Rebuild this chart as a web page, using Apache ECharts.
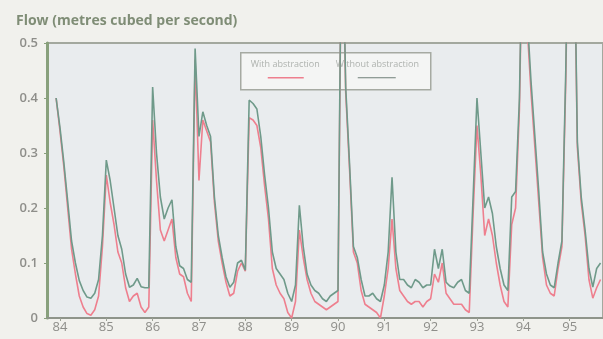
<!DOCTYPE html>
<html>
<head>
<meta charset="utf-8">
<script src="https://cdn.jsdelivr.net/npm/echarts@6/dist/echarts.min.js"></script>
<style>
  html, body { margin: 0; padding: 0; background: #f1f1ed; }
  #flowChart { width: 603px; height: 339px; }
</style>
</head>
<body>
<div id="flowChart"></div>
<script>
// monthly flow, first value is Dec 1983
const firstYear = 1983;
const firstMonth = 12;
const yearLabels = ['84', '85', '86', '87', '88', '89', '90', '91', '92', '93', '94', '95'];
const seriesNames = ['With abstraction', 'Without abstraction'];

const withoutAbstraction = [
  0.40,
  0.346, 0.283, 0.212, 0.14, 0.10, 0.068, 0.05, 0.038, 0.036, 0.045, 0.07, 0.15,
  0.287, 0.25, 0.20, 0.15, 0.125, 0.08, 0.056, 0.06, 0.072, 0.057, 0.055, 0.055,
  0.42, 0.30, 0.22, 0.18, 0.20, 0.215, 0.13, 0.095, 0.09, 0.07, 0.065, 0.49,
  0.33, 0.375, 0.35, 0.33, 0.22, 0.15, 0.11, 0.075, 0.056, 0.065, 0.10, 0.105,
  0.087, 0.396, 0.39, 0.38, 0.33, 0.26, 0.20, 0.12, 0.09, 0.08, 0.07, 0.045,
  0.03, 0.06, 0.205, 0.13, 0.08, 0.06, 0.05, 0.045, 0.035, 0.03, 0.04, 0.045,
  0.05, 0.80, 0.42, 0.28, 0.13, 0.11, 0.07, 0.04, 0.04, 0.045, 0.035, 0.03,
  0.06, 0.12, 0.256, 0.12, 0.07, 0.07, 0.06, 0.055, 0.07, 0.065, 0.055, 0.06,
  0.06, 0.125, 0.09, 0.125, 0.065, 0.058, 0.055, 0.065, 0.07, 0.05, 0.045, 0.22,
  0.40, 0.30, 0.20, 0.22, 0.19, 0.13, 0.09, 0.06, 0.05, 0.22, 0.23, 0.40,
  0.80, 0.55, 0.43, 0.33, 0.23, 0.12, 0.08, 0.06, 0.055, 0.10, 0.14, 0.45,
  0.90, 0.80, 0.32, 0.22, 0.16, 0.09, 0.056, 0.09, 0.10
];

const withAbstraction = [
  0.40,
  0.34, 0.275, 0.20, 0.125, 0.08, 0.04, 0.02, 0.008, 0.005, 0.015, 0.04, 0.13,
  0.26, 0.21, 0.17, 0.12, 0.10, 0.055, 0.03, 0.04, 0.045, 0.02, 0.01, 0.02,
  0.36, 0.25, 0.16, 0.14, 0.16, 0.18, 0.11, 0.08, 0.075, 0.045, 0.03, 0.47,
  0.25, 0.36, 0.34, 0.32, 0.21, 0.14, 0.10, 0.065, 0.04, 0.045, 0.085, 0.10,
  0.085, 0.364, 0.36, 0.35, 0.31, 0.24, 0.18, 0.09, 0.06, 0.045, 0.035, 0.01,
  0.0, 0.03, 0.16, 0.11, 0.07, 0.045, 0.03, 0.025, 0.02, 0.015, 0.02, 0.025,
  0.03, 0.78, 0.41, 0.27, 0.12, 0.10, 0.05, 0.025, 0.02, 0.015, 0.01, 0.0,
  0.04, 0.09, 0.18, 0.09, 0.05, 0.04, 0.03, 0.025, 0.03, 0.03, 0.02, 0.03,
  0.035, 0.08, 0.065, 0.10, 0.045, 0.035, 0.025, 0.025, 0.025, 0.015, 0.01, 0.19,
  0.35, 0.26, 0.15, 0.18, 0.15, 0.10, 0.06, 0.03, 0.02, 0.17, 0.20, 0.38,
  0.78, 0.53, 0.41, 0.31, 0.21, 0.11, 0.06, 0.045, 0.04, 0.09, 0.13, 0.43,
  0.88, 0.78, 0.31, 0.21, 0.15, 0.07, 0.036, 0.055, 0.07
];

// x in two-digit years, Jan = whole year
function toPoints(values) {
  return values.map((v, i) => {
    let t = (firstYear - 1900) + (firstMonth - 1 + i) / 12;
    return [t, v];
  });
}

let myChart = echarts.init(document.getElementById('flowChart'));
let labelFont = 'Open Sans';
let yearTicks = yearLabels.map((s) => Number(s));

myChart.setOption({
  backgroundColor: '#f1f1ed',
  animation: false,
  title: {
    text: 'Flow (metres cubed per second)',
    left: 11,
    top: 9,
    textStyle: { fontFamily: labelFont, fontSize: 14, fontWeight: 'bold', color: '#7f8d76' }
  },
  grid: {
    left: 47,
    top: 43,
    right: -2,
    bottom: 21,
    show: true,
    backgroundColor: '#e9ecee',
    borderColor: '#a3a89e',
    borderWidth: 2
  },
  xAxis: {
    type: 'value',
    min: 83.72,
    max: 95.72,
    splitLine: { show: false },
    axisLine: { lineStyle: { color: '#8e948a', width: 2 } },
    axisTick: { customValues: yearTicks, length: 3, lineStyle: { color: '#9aa094' } },
    axisLabel: {
      customValues: yearTicks,
      formatter: (v) => String(Math.round(v)),
      fontFamily: labelFont,
      fontSize: 13,
      color: '#8e8e8a',
      margin: 3
    }
  },
  yAxis: {
    type: 'value',
    min: 0,
    max: 0.5,
    interval: 0.1,
    splitLine: { show: false },
    axisLine: { show: true, lineStyle: { color: '#88a07c', width: 3 } },
    axisTick: { show: true, length: 3, lineStyle: { color: '#88a07c' } },
    axisLabel: { fontFamily: labelFont, fontSize: 13, fontWeight: 600, color: '#8e8e8a', margin: 9 }
  },
  series: [
    {
      name: seriesNames[0],
      type: 'line',
      data: toPoints(withAbstraction),
      showSymbol: false,
      lineStyle: { color: '#ee7f8e', width: 1.6 },
      itemStyle: { color: '#ee7f8e' }
    },
    {
      name: seriesNames[1],
      type: 'line',
      data: toPoints(withoutAbstraction),
      showSymbol: false,
      lineStyle: { color: '#6f9a8a', width: 1.6 },
      itemStyle: { color: '#6f9a8a' }
    }
  ],
  graphic: [
    {
      type: 'group',
      left: 240,
      top: 52,
      z: 100,
      children: [
        { type: 'rect', shape: { x: 0, y: 0, width: 190, height: 37 },
          style: { fill: '#f4f5f4', stroke: '#a6aaa2', lineWidth: 1.5 } },
        { type: 'text', x: 10, y: 12,
          style: { text: seriesNames[0], fill: '#aeb2ae', font: '9px "Open Sans"', verticalAlign: 'middle' } },
        { type: 'text', x: 95, y: 12,
          style: { text: seriesNames[1], fill: '#aeb2ae', font: '9px "Open Sans"', verticalAlign: 'middle' } },
        { type: 'line', shape: { x1: 27, y1: 25, x2: 63, y2: 25 },
          style: { stroke: '#ee7f8e', lineWidth: 1.5 } },
        { type: 'line', shape: { x1: 117, y1: 25, x2: 155, y2: 25 },
          style: { stroke: '#6f7f78', lineWidth: 1.2 } }
      ]
    }
  ]
});
</script>
</body>
</html>
